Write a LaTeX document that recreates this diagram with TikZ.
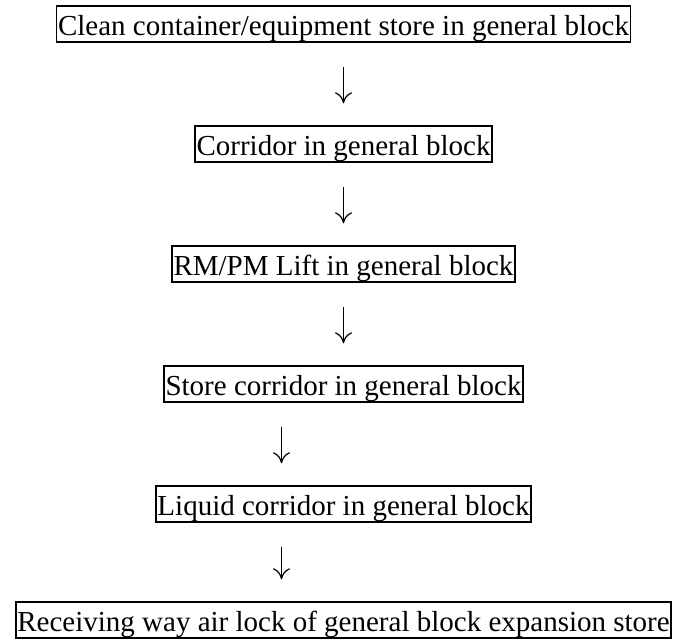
\documentclass[tikz,border=0pt]{standalone}
\usepackage{fontspec}
\setmainfont{Liberation Serif}
\usepackage{tikz}
\usetikzlibrary{arrows.meta, positioning}

\tikzset{
    room/.style={draw, line width=1.9pt, inner xsep=1.5pt, inner ysep=0pt,
        text height=29pt, text depth=6.5pt, font=\fontsize{29}{34}\selectfont},
    flow/.style={-{To[length=11pt,width=17pt]}, line width=1.2pt,
        shorten <=24pt, shorten >=22pt}
}

\begin{document}
\begin{tikzpicture}[node distance=120pt, on grid]
            \useasboundingbox (0,0) rectangle (676pt,-639pt);

            \node[room] (1) at (343.5pt,-24pt) {Clean container/equipment store in general block};
            \node[room, below=of 1] (2) {Corridor in general block};
            \node[room, below=of 2] (3) {RM/PM Lift in general block};
            \node[room, below=of 3] (4) {Store corridor in general block};
            \node[room, below=of 4] (5) {Liquid corridor in general block};
            \node[room, below=116pt of 5] (6) {Receiving way air lock of general block expansion store};

            % the last two arrows sit left of the centre line
            \path[flow]
            (1) edge (2)
            (2) edge (3)
            (3) edge (4)
            ([xshift=-62pt]4.south) edge ([xshift=-62pt]5.north)
            ([xshift=-62pt]5.south) edge ([xshift=-62pt]6.north);
        \end{tikzpicture}
\end{document}
